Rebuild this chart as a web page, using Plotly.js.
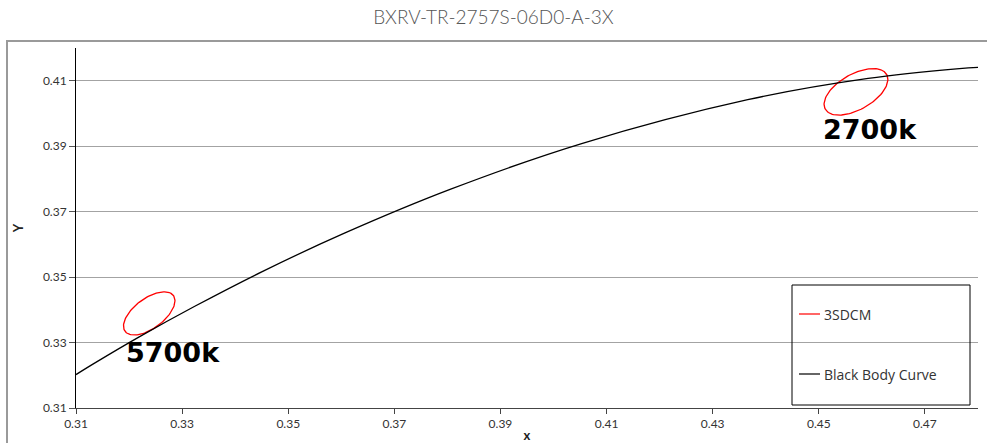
<!DOCTYPE html>
<html>
<head>
<meta charset="utf-8">
<script src="https://cdn.plot.ly/plotly-3.0.1.min.js"></script>
<style>html,body{margin:0;padding:0;background:#fff;}#chart{width:987px;height:443px;}</style>
</head>
<body>
<div id="chart"></div>
<script>
// Black body (Planckian) curve
const bbX = [0.3100, 0.3135, 0.3220, 0.3323, 0.3450, 0.3607, 0.3805, 0.4053, 0.4366, 0.4593, 0.4765, 0.4800];
const bbY = [0.3202, 0.3237, 0.3318, 0.3410, 0.3516, 0.3635, 0.3768, 0.3908, 0.4042, 0.4107, 0.4137, 0.4141];

// 3-step MacAdam ellipses (3SDCM)
const ellipseLabels = ['5700k', '2700k'];
const ellipseCx = [0.3238, 0.4570];
const ellipseCy = [0.3389, 0.4066];
const ellipseA = [0.00740, 0.00820];
const ellipseB = [0.00350, 0.00440];
const ellipseAngle = [59, 53.7];

// CCT label positions
const labelX = [0.3283, 0.4596];
const labelY = [0.3271, 0.3950];

const xTicks = [0.31, 0.33, 0.35, 0.37, 0.39, 0.41, 0.43, 0.45, 0.47];
const yTicks = [0.31, 0.33, 0.35, 0.37, 0.39, 0.41];

function ellipsePts(cx, cy, a, b, deg) {
  const t = deg * Math.PI / 180, xs = [], ys = [];
  for (let i = 0; i <= 120; i++) {
    const p = 2 * Math.PI * i / 120;
    const u = a * Math.cos(p), v = b * Math.sin(p);
    xs.push(cx + u * Math.cos(t) - v * Math.sin(t));
    ys.push(cy + u * Math.sin(t) + v * Math.cos(t));
  }
  return {xs, ys};
}

const traces = [];
ellipseLabels.forEach((lab, i) => {
  const e = ellipsePts(ellipseCx[i], ellipseCy[i], ellipseA[i], ellipseB[i], ellipseAngle[i]);
  traces.push({x: e.xs, y: e.ys, mode: 'lines', name: '3SDCM', showlegend: false,
    line: {color: '#ff0000', width: 1.3}, hoverinfo: 'skip'});
});
traces.push({x: bbX, y: bbY, mode: 'lines', name: 'Black Body Curve', showlegend: false,
  line: {color: '#000000', width: 1.3, shape: 'spline'}});

const annotations = ellipseLabels.map((lab, i) => ({
  x: labelX[i], y: labelY[i], xref: 'x', yref: 'y', text: lab, showarrow: false,
  font: {family: 'DejaVu Sans', size: 27, color: '#000', weight: 'bold'}, xanchor: 'center', yanchor: 'middle'
}));

// legend (manual)
const legX0 = (792 - 76) / 902, legX1 = (970 - 76) / 902;
const legY0 = (408 - 405) / 360, legY1 = (408 - 285) / 360;
const sampleX0 = (799 - 76) / 902, sampleX1 = (820 - 76) / 902, textX = (822 - 76) / 902;
const legendNames = ['3SDCM', 'Black Body Curve'];
const legendColors = ['#ff0000', '#000000'];
const legendRowY = [(408 - 314) / 360, (408 - 374) / 360];

const shapes = [
  {type: 'rect', xref: 'paper', yref: 'paper', x0: (7 - 76) / 902, x1: (995 - 76) / 902,
   y0: (408 - 460) / 360, y1: (408 - 41) / 360, line: {color: '#9a9a9a', width: 2}, fillcolor: 'rgba(0,0,0,0)', layer: 'above'},
  {type: 'rect', xref: 'paper', yref: 'paper', x0: legX0, x1: legX1, y0: legY0, y1: legY1,
   line: {color: '#000', width: 1}, fillcolor: 'rgba(0,0,0,0)', layer: 'above'}
];
legendNames.forEach((n, i) => {
  shapes.push({type: 'line', xref: 'paper', yref: 'paper', x0: sampleX0, x1: sampleX1,
    y0: legendRowY[i], y1: legendRowY[i], line: {color: legendColors[i], width: 1.2}, layer: 'above'});
  annotations.push({xref: 'paper', yref: 'paper', x: textX, y: legendRowY[i], text: n, showarrow: false,
    xanchor: 'left', yanchor: 'middle', font: {family: 'Open Sans', size: 14, color: '#333'}});
});

const layout = {
  width: 987, height: 443,
  margin: {l: 76, r: 9, t: 48, b: 35},
  paper_bgcolor: '#fff', plot_bgcolor: '#fff',
  title: {text: 'BXRV-TR-2757S-06D0-A-3X', x: 0.5, xref: 'container', y: 1 - 17 / 443, yref: 'container',
    xanchor: 'center', yanchor: 'middle', font: {family: 'Lato', size: 19, color: '#555', weight: 300}},
  xaxis: {range: [0.31, 0.48], tickvals: xTicks, ticktext: xTicks.map(v => v.toFixed(2)),
    showgrid: false, zeroline: false, showline: true, linecolor: '#444', linewidth: 1,
    ticks: 'outside', ticklen: 5, tickcolor: '#444',
    tickfont: {family: 'Lato', size: 12, color: '#333'},
    title: {text: 'x', font: {family: 'Lato', size: 13, color: '#222', weight: 'bold'}, standoff: 4}},
  yaxis: {range: [0.31, 0.42], tickvals: yTicks, ticktext: yTicks.map(v => v.toFixed(2)),
    showgrid: true, gridcolor: '#a3a3a3', gridwidth: 1, zeroline: false,
    showline: true, linecolor: '#000', linewidth: 1,
    ticks: 'outside', ticklen: 6, tickcolor: '#555',
    tickfont: {family: 'Lato', size: 12, color: '#333'},
    title: {text: 'Y', font: {family: 'Lato', size: 13, color: '#222', weight: 'bold'}, standoff: 16}},
  shapes: shapes,
  annotations: annotations,
  showlegend: false
};

Plotly.newPlot('chart', traces, layout, {displayModeBar: false, staticPlot: true});
</script>
</body>
</html>
